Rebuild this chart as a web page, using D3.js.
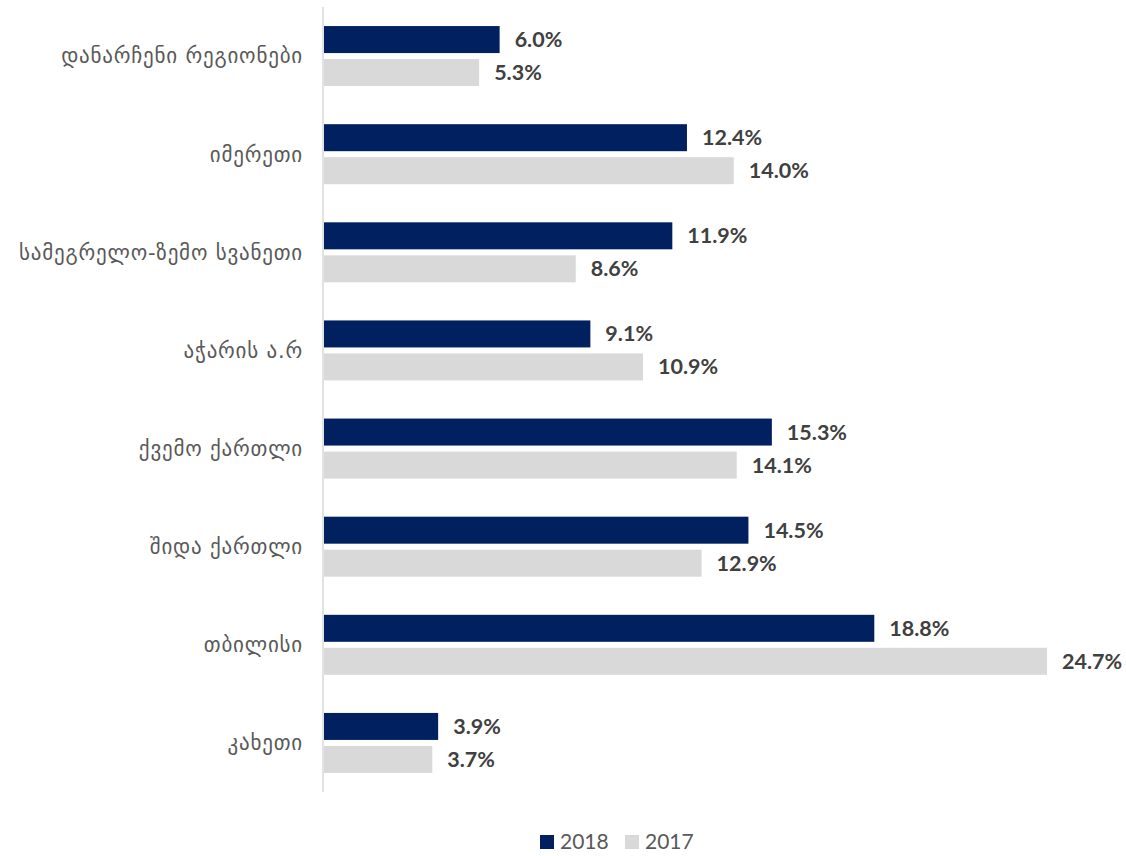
<!DOCTYPE html>
<html>
<head>
<meta charset="utf-8">
<script src="https://cdn.jsdelivr.net/npm/d3@7"></script>
<style>
  body { margin: 0; background: #fff; }
  svg text { font-family: Lato, "DejaVu Sans", sans-serif; }
</style>
</head>
<body>
<div id="chart"></div>
<script>
// regions, top to bottom
let categories = ["დანარჩენი რეგიონები", "იმერეთი", "სამეგრელო-ზემო სვანეთი", "აჭარის ა.რ",
    "ქვემო ქართლი", "შიდა ქართლი", "თბილისი", "კახეთი"];
let series = ["2018", "2017"];
let values2018 = [6.0, 12.4, 11.9, 9.1, 15.3, 14.5, 18.8, 3.9];
let values2017 = [5.3, 14.0, 8.6, 10.9, 14.1, 12.9, 24.7, 3.7];
let colors = ["#002060", "#D9D9D9"];

let width = 1126, height = 856;
let margin = {left: 323, top: 7, right: 80, bottom: 64};

let svg = d3.select("#chart").append("svg")
    .attr("width", width)
    .attr("height", height);

let x = d3.scaleLinear()
    .domain([0, 24.7])
    .range([margin.left, 1046]);

let y = d3.scaleBand()
    .domain(categories)
    .range([margin.top, height - margin.bottom]);

let barH = 27, gap = 6;

// axis line
svg.append("line")
    .attr("x1", margin.left).attr("x2", margin.left)
    .attr("y1", margin.top).attr("y2", height - margin.bottom)
    .attr("stroke", "#d9d9d9")
    .attr("stroke-width", 1.5);

let allSeries = [values2018, values2017];
allSeries.forEach(function(vals, si) {
    let offset = si === 0 ? -gap / 2 - barH : gap / 2;
    let rows = categories.map(function(c, i) { return {cat: c, v: vals[i]}; });
    let yc = function(d) { return y(d.cat) + y.bandwidth() / 2 + offset; };

    svg.selectAll(".bar" + si)
        .data(rows)
        .join("rect")
        .attr("x", x(0) + 1)
        .attr("y", yc)
        .attr("width", function(d) { return x(d.v) - x(0); })
        .attr("height", barH)
        .attr("fill", colors[si]);

    svg.selectAll(".lab" + si)
        .data(rows)
        .join("text")
        .attr("x", function(d) { return x(d.v) + 16; })
        .attr("y", function(d) { return yc(d) + barH / 2; })
        .attr("dy", "0.35em")
        .style("font-size", "21.5px")
        .style("font-weight", "bold")
        .style("fill", "#404040")
        .text(function(d) { return d.v.toFixed(1) + "%"; });
});

// category labels
svg.selectAll(".cat")
    .data(categories)
    .join("text")
    .attr("x", 303)
    .attr("y", function(d) { return y(d) + y.bandwidth() / 2; })
    .attr("dy", "0.35em")
    .attr("text-anchor", "end")
    .style("font-family", "'DejaVu Sans', sans-serif")
    .style("font-size", "21px")
    .style("letter-spacing", "0.8px")
    .style("fill", "#595959")
    .text(function(d) { return d; });

// legend
let legend = svg.append("g").attr("transform", "translate(540, 842)");
let legX = [0, 85];
series.forEach(function(s, i) {
    legend.append("rect")
        .attr("x", legX[i]).attr("y", -7)
        .attr("width", 14).attr("height", 14)
        .attr("fill", colors[i]);
    legend.append("text")
        .attr("x", legX[i] + 20).attr("y", 0)
        .attr("dy", "0.35em")
        .style("font-size", "21px")
        .style("fill", "#595959")
        .text(s);
});
</script>
</body>
</html>
